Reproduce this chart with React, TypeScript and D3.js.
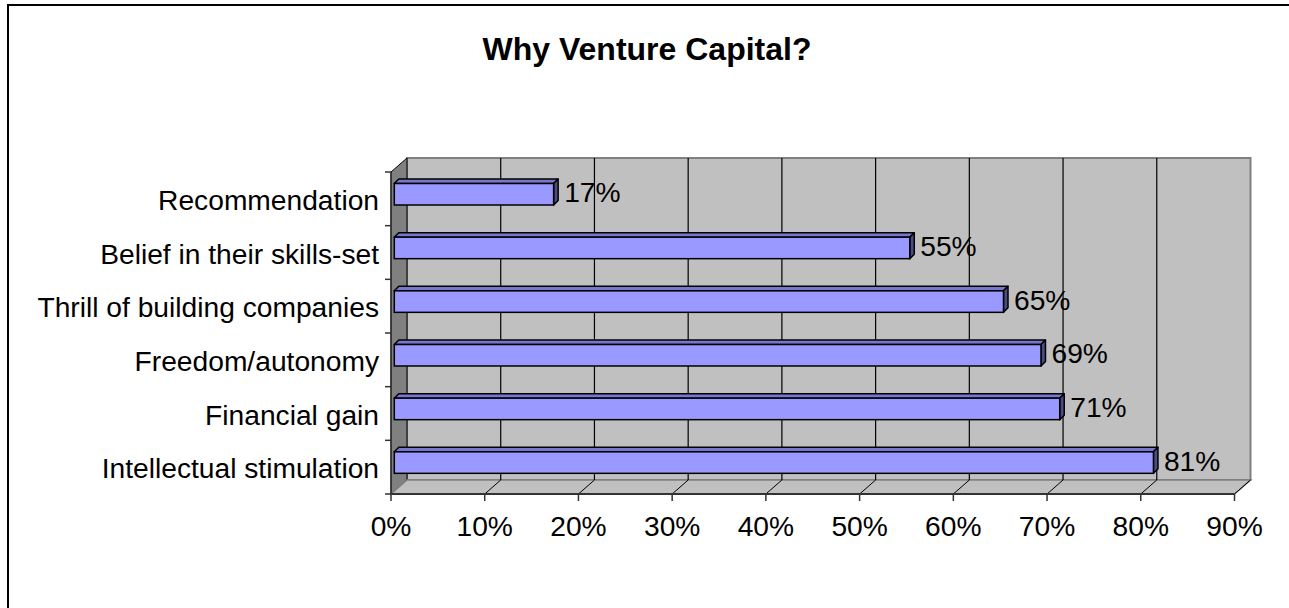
import React from "react";
import * as d3 from "d3";

const categories = [
  "Recommendation",
  "Belief in their skills-set",
  "Thrill of building companies",
  "Freedom/autonomy",
  "Financial gain",
  "Intellectual stimulation",
];
const values = [17, 55, 65, 69, 71, 81];
const xTicks = [0, 10, 20, 30, 40, 50, 60, 70, 80, 90];
const title = "Why Venture Capital?";

const W = 1289;
const H = 608;
const DX = 16; // wall depth offset
const DY = -14;
const BDX = 4.5; // bar depth
const BDY = -4.5;
const FONT = "'Liberation Sans', Arial, Helvetica, sans-serif";
const FS = 28.2;

export default function App() {
  const x = d3.scaleLinear().domain([0, 90]).range([391, 1234.5]);
  const y = d3.scaleBand<string>().domain(categories).range([172, 494]);
  const x0 = x(0);
  const x1 = x(90);
  const yTop = y.range()[0];
  const yBot = y.range()[1];
  const bh = y.bandwidth();
  const pts = (a: number[][]) => a.map((p) => p.join(",")).join(" ");

  return (
    <svg
      width={W}
      height={H}
      style={{ position: "absolute", left: 0, top: 0, background: "#fff" }}
      fontFamily={FONT}
    >
      <rect x={0} y={0} width={W} height={H} fill="#fff" />
      {/* outer frame */}
      <rect x={8} y={5} width={W + 20} height={H + 20} fill="none" stroke="#000" strokeWidth={2} />

      {/* title */}
      <text x={647} y={60} textAnchor="middle" fontWeight="bold" fontSize={32} fill="#000">
        {title}
      </text>

      {/* back wall */}
      <rect
        x={x0 + DX}
        y={yTop + DY}
        width={x1 - x0}
        height={yBot - yTop}
        fill="#c0c0c0"
        stroke="#808080"
        strokeWidth={2}
      />
      {/* left wall */}
      <polygon
        points={pts([
          [x0, yTop],
          [x0 + DX, yTop + DY],
          [x0 + DX, yBot + DY],
          [x0, yBot],
        ])}
        fill="#808080"
        stroke="#000"
        strokeWidth={1}
      />
      {/* floor */}
      <polygon
        points={pts([
          [x0, yBot],
          [x0 + DX, yBot + DY],
          [x1 + DX, yBot + DY],
          [x1, yBot],
        ])}
        fill="#c0c0c0"
        stroke="#808080"
        strokeWidth={1.5}
      />
      {/* gridlines */}
      {xTicks.map((t) => (
        <g key={"g" + t}>
          {t > 0 && t < 90 && (
            <line
              x1={x(t) + DX}
              x2={x(t) + DX}
              y1={yTop + DY}
              y2={yBot + DY}
              stroke="#000"
              strokeWidth={1.2}
            />
          )}
          {t > 0 && (
            <line
              x1={x(t)}
              y1={yBot}
              x2={x(t) + DX}
              y2={yBot + DY}
              stroke="#000"
              strokeWidth={1}
            />
          )}
        </g>
      ))}
      {/* front axis line */}
      <line x1={x0} x2={x1} y1={yBot} y2={yBot} stroke="#333" strokeWidth={2} />
      <line x1={x0} x2={x0} y1={yTop} y2={yBot} stroke="#333" strokeWidth={1.5} />
      {/* x ticks and labels */}
      {xTicks.map((t) => (
        <g key={"t" + t}>
          <line x1={x(t)} x2={x(t)} y1={yBot} y2={yBot + 7} stroke="#333" strokeWidth={1.5} />
          <text x={x(t)} y={536} textAnchor="middle" fontSize={FS} fill="#000">
            {t + "%"}
          </text>
        </g>
      ))}
      {/* category ticks */}
      {d3.range(categories.length + 1).map((i) => (
        <line
          key={"ct" + i}
          x1={x0 - 6}
          x2={x0}
          y1={yTop + i * bh}
          y2={yTop + i * bh}
          stroke="#333"
          strokeWidth={1.5}
        />
      ))}
      {/* bars */}
      {categories.map((c, i) => {
        const v = values[i];
        const bx0 = x(0) + 3.3;
        const bx1 = x(v) + 3.3;
        const by0 = (y(c) as number) + 11.5;
        const by1 = by0 + 21.5;
        return (
          <g key={c}>
            <polygon
              points={pts([
                [bx0, by0],
                [bx0 + BDX, by0 + BDY],
                [bx1 + BDX, by0 + BDY],
                [bx1, by0],
              ])}
              fill="#7777cc"
              stroke="#000"
              strokeWidth={1.5}
              strokeLinejoin="round"
            />
            <polygon
              points={pts([
                [bx1, by0],
                [bx1 + BDX, by0 + BDY],
                [bx1 + BDX, by1 + BDY],
                [bx1, by1],
              ])}
              fill="#4c4c80"
              stroke="#000"
              strokeWidth={1.5}
              strokeLinejoin="round"
            />
            <rect
              x={bx0}
              y={by0}
              width={bx1 - bx0}
              height={by1 - by0}
              fill="#9999ff"
              stroke="#000"
              strokeWidth={1.5}
            />
            <text
              x={bx1 + BDX + 6}
              y={(by0 + by1) / 2 - 2}
              dominantBaseline="central"
              fontSize={FS}
              fill="#000"
            >
              {v + "%"}
            </text>
          </g>
        );
      })}
      {/* category labels */}
      {categories.map((c) => (
        <text
          key={"l" + c}
          x={379}
          y={(y(c) as number) + bh / 2 + 1}
          textAnchor="end"
          dominantBaseline="central"
          fontSize={FS}
          fill="#000"
        >
          {c}
        </text>
      ))}
    </svg>
  );
}
